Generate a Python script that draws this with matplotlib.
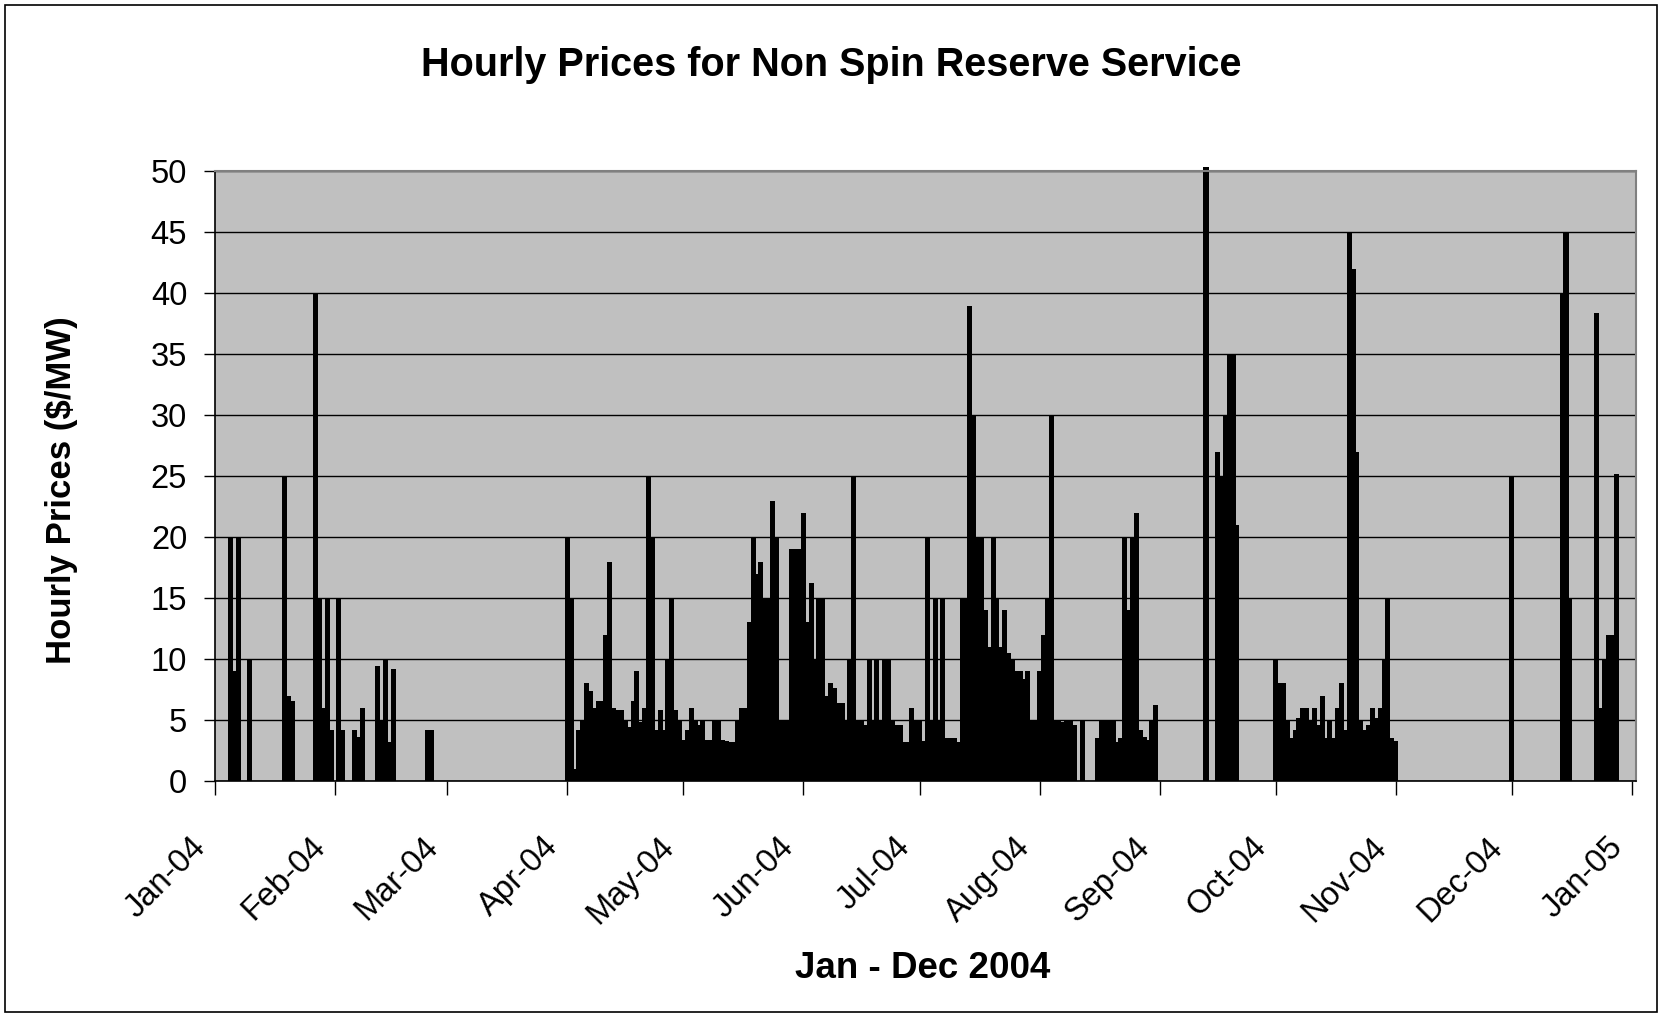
import numpy as np
import pandas as pd
import matplotlib
matplotlib.use("Agg")
import matplotlib.pyplot as plt
import matplotlib.dates as mdates
from matplotlib.patches import Rectangle
from matplotlib.transforms import ScaledTranslation

plt.rcParams['font.family'] = ['Liberation Sans', 'DejaVu Sans']

# ── data: day offset from 1 Jan 2004 and daily peak price ($/MW) ──────────────
days_winter = [4, 5, 6, 9, 18, 19, 20, 26, 27, 28, 29, 30, 32, 33, 36, 37, 38,
               42, 43, 44, 45, 46, 55, 56]
price_winter = [20, 9, 20, 10, 25, 7, 6.6, 40, 15, 6, 15, 4.2, 15, 4.2, 4.2, 3.6, 6,
                9.4, 5, 10, 3.2, 9.2, 4.2, 4.2]

days_spring = list(range(91, 152))
price_spring = [20, 15, 1, 4.2, 5, 8, 7.4, 6, 6.6, 6.6, 12, 18, 6, 5.8, 5.8, 5, 4.4,
                6.6, 9, 4.8, 6, 25, 20, 4.2, 5.8, 4.2, 10, 15, 5.8, 5, 3.4, 4.2, 6,
                5, 4.6, 5, 3.4, 3.4, 5, 5, 3.4, 3.3, 3.2, 3.2, 5, 6, 6, 13, 20, 17,
                18, 15, 15, 23, 20, 5, 5, 5, 19, 19, 19]

days_summer = list(range(152, 226))
price_summer = [22, 13, 16.2, 10, 15, 15, 7, 8, 7.6, 6.4, 6.4, 5, 10, 25, 5, 5, 4.6,
                10, 5, 10, 5, 10, 10, 5, 4.6, 4.6, 3.2, 3.2, 6, 5, 5, 3.3, 20, 5, 15,
                5, 15, 3.5, 3.5, 3.5, 3.2, 15, 15, 39, 30, 20, 20, 14, 11, 20, 15,
                11, 14, 10.5, 10, 9, 9, 8.4, 9, 5, 5, 9, 12, 15, 30, 5, 5, 4.8, 5,
                5, 4.6, 0, 5, 0]

days_late_summer = list(range(228, 244))
price_late_summer = [3.5, 5, 5, 5, 5, 3.2, 3.5, 20, 14, 20, 22, 4.2, 3.6, 3.4, 5, 6.2]

days_autumn = [256, 259, 260, 261, 262, 263, 264] + list(range(274, 306))
price_autumn = [50.4, 27, 25, 30, 35, 35, 21,
                10, 8, 8, 5, 3.5, 4.2, 5.2, 6, 6, 5, 6, 4.6, 7, 3.5, 5, 3.5, 6,
                8, 4.2, 45, 42, 27, 5, 4.2, 4.6, 6, 5.2, 6, 10, 15, 3.5, 3.3]

days_december = [335, 348, 349, 350, 357, 358, 359, 360, 361, 362]
price_december = [25, 40, 45, 15, 38.4, 6, 10, 12, 12, 25.2]

days = np.array(days_winter + days_spring + days_summer + days_late_summer
                + days_autumn + days_december)
prices = np.array(price_winter + price_spring + price_summer + price_late_summer
                  + price_autumn + price_december)

start = np.datetime64('2004-01-01')
dates = start + days.astype('timedelta64[D]')
month_ticks = pd.date_range('2004-01-01', periods=13, freq='MS')

# ── plot ──────────────────────────────────────────────────────────────────────
fig = plt.figure(figsize=(16.63, 10.17), dpi=100)
ax = fig.add_axes([0.1293, 0.2321, 0.8545, 0.5993])
ax.set_facecolor('#C0C0C0')

ax.bar(dates, prices, width=1.3, color='black', linewidth=0, clip_on=False, zorder=2)

x0 = mdates.date2num(start)
ax.set_xlim(x0, x0 + 367.1)
ax.set_ylim(0, 50)
ax.set_yticks(np.arange(0, 51, 5))
ax.set_axisbelow(True)
ax.grid(axis='y', color='black', linewidth=1.0)

ax.set_xticks(month_ticks)
ax.set_xticklabels(month_ticks.strftime('%b-%y'), rotation=45, ha='right',
                   va='center', rotation_mode='anchor')
ax.tick_params(axis='x', length=10, width=1, pad=34, labelsize=23.5)
ax.tick_params(axis='y', length=8, width=1, pad=12, labelsize=23.5)
for lab in ax.get_xticklabels():
    lab.set_transform(lab.get_transform() + ScaledTranslation(-14 / 100, 0, fig.dpi_scale_trans))

for side in ('top', 'right'):
    ax.spines[side].set_color('#808080')
    ax.spines[side].set_linewidth(1.5)
for side in ('left', 'bottom'):
    ax.spines[side].set_color('black')
    ax.spines[side].set_linewidth(1.2)

fig.text(0.5, 1 - 76 / 1017, 'Hourly Prices for Non Spin Reserve Service',
         ha='center', va='baseline', fontsize=28.5, fontweight='bold')
fig.text(923 / 1663, 1 - 978 / 1017, 'Jan - Dec 2004',
         ha='center', va='baseline', fontsize=26.5, fontweight='bold')
fig.text(62 / 1663, 1 - 490 / 1017, 'Hourly Prices ($/MW)', rotation=90,
         ha='center', va='center', fontsize=25, fontweight='bold')

fig.patches.append(Rectangle((5 / 1663, 5 / 1017), 1652 / 1663, 1007 / 1017,
                             transform=fig.transFigure, fill=False,
                             edgecolor='black', linewidth=1.2))

fig.savefig('out.png', dpi=100)
